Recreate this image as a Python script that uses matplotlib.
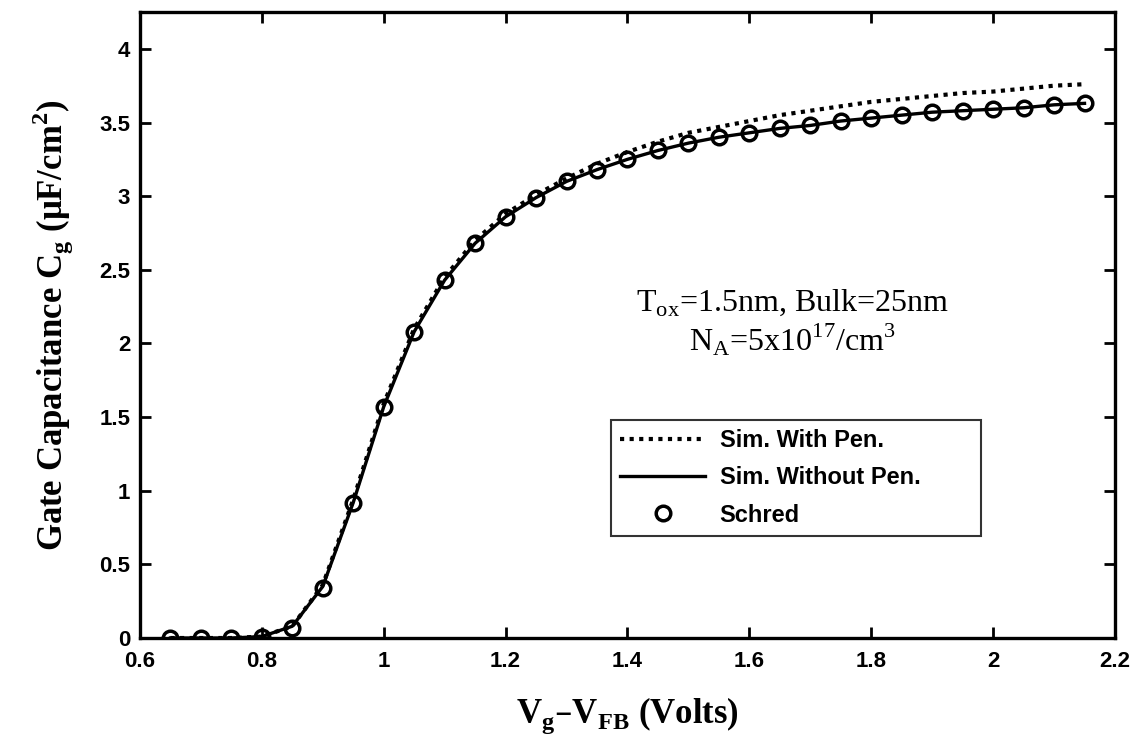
import numpy as np
import matplotlib.pyplot as plt

# gate voltage above flat-band (V)
vg = [0.65, 0.70, 0.75, 0.80, 0.85, 0.90, 0.95, 1.00, 1.05, 1.10, 1.15, 1.20,
      1.25, 1.30, 1.35, 1.40, 1.45, 1.50, 1.55, 1.60, 1.65, 1.70, 1.75, 1.80,
      1.85, 1.90, 1.95, 2.00, 2.05, 2.10, 2.15]

# Schred reference points (uF/cm^2)
schred = [0.00, 0.00, 0.00, 0.01, 0.07, 0.34, 0.92, 1.57, 2.08, 2.43, 2.68, 2.86,
          2.99, 3.10, 3.18, 3.25, 3.31, 3.36, 3.40, 3.43, 3.46, 3.48, 3.51, 3.53,
          3.55, 3.57, 3.58, 3.59, 3.60, 3.62, 3.63]

# simulation without penetration
sim_no_pen = [0.00, 0.00, 0.00, 0.01, 0.08, 0.35, 0.92, 1.57, 2.08, 2.43, 2.68, 2.86,
              2.99, 3.10, 3.18, 3.25, 3.31, 3.36, 3.40, 3.43, 3.46, 3.48, 3.51, 3.53,
              3.55, 3.57, 3.58, 3.59, 3.60, 3.62, 3.63]

# simulation with penetration
sim_pen = [0.00, 0.00, 0.00, 0.01, 0.08, 0.36, 0.94, 1.59, 2.10, 2.45, 2.70, 2.88,
           3.01, 3.12, 3.22, 3.30, 3.37, 3.43, 3.47, 3.51, 3.55, 3.58, 3.61, 3.64,
           3.66, 3.68, 3.70, 3.71, 3.73, 3.75, 3.76]

xticks = [0.6, 0.8, 1.0, 1.2, 1.4, 1.6, 1.8, 2.0, 2.2]
xticklabels = ['0.6', '0.8', '1', '1.2', '1.4', '1.6', '1.8', '2', '2.2']
yticks = [0, 0.5, 1, 1.5, 2, 2.5, 3, 3.5, 4]
yticklabels = ['0', '0.5', '1', '1.5', '2', '2.5', '3', '3.5', '4']

fig = plt.figure(figsize=(11.36, 7.43), dpi=100)
ax = fig.add_axes([0.1232, 0.1413, 0.8583, 0.8425])

ax.plot(vg, sim_pen, color='black', linestyle=(0, (1, 1.3)), linewidth=3,
        label='Sim. With Pen.')
ax.plot(vg, sim_no_pen, color='black', linestyle='-', linewidth=2.4,
        label='Sim. Without Pen.')
ax.plot(vg, schred, linestyle='none', marker='o', markersize=10.5,
        markerfacecolor='none', markeredgecolor='black', markeredgewidth=2.5,
        label='Schred')

ax.set_xlim(0.6, 2.2)
ax.set_ylim(0, 4.25)
ax.set_xticks(xticks)
ax.set_xticklabels(xticklabels)
ax.set_yticks(yticks)
ax.set_yticklabels(yticklabels)

tick_font = {'family': 'Liberation Sans', 'weight': 'bold', 'size': 16}
for lab in ax.get_xticklabels() + ax.get_yticklabels():
    lab.set_fontproperties(tick_font)

ax.tick_params(direction='in', length=8, width=2, top=True, right=True)
ax.tick_params(axis='x', pad=9)
ax.tick_params(axis='y', pad=7)
for s in ax.spines.values():
    s.set_linewidth(2.4)

label_font = {'family': 'Liberation Serif', 'weight': 'bold', 'size': 25}
ax.set_xlabel(r'V$_\mathregular{g}$–V$_\mathregular{FB}$ (Volts)', fontdict=label_font, labelpad=17)
ax.set_ylabel(r'Gate Capacitance C$_\mathregular{g}$ (μF/cm$^\mathregular{2}$)', fontdict=label_font, labelpad=17)

note_font = {'family': 'Liberation Serif', 'size': 23}
ax.text(1.67, 2.22, r'T$_\mathregular{ox}$=1.5nm, Bulk=25nm', ha='center', va='baseline', fontdict=note_font)
ax.text(1.67, 1.95, r'N$_\mathregular{A}$=5x10$^\mathregular{17}$/cm$^\mathregular{3}$', ha='center', va='baseline', fontdict=note_font)

leg = ax.legend(loc='lower left', bbox_to_anchor=(0.483, 0.163, 0.38, 0.176), mode='expand',
                prop={'family': 'Liberation Sans', 'weight': 'bold', 'size': 17},
                frameon=True, fancybox=False, edgecolor='black', handlelength=3.6,
                handletextpad=0.6, borderaxespad=0, labelspacing=0.6, borderpad=0.4)
leg.get_frame().set_linewidth(1.5)

fig.savefig('out.png', dpi=100)
